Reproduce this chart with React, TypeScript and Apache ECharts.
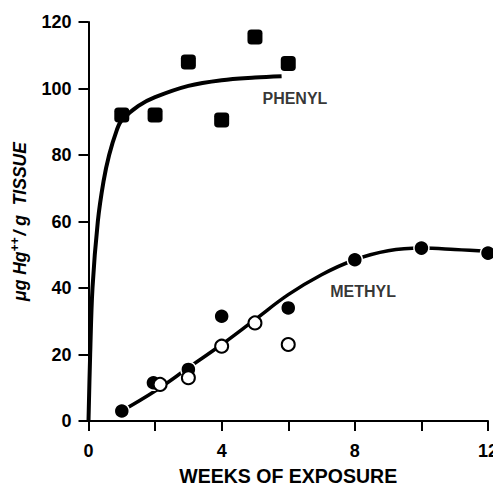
import React, { useEffect, useRef } from "react";
import * as echarts from "echarts";

// phenyl mercury: measured points (weeks, µg Hg/g tissue)
const phenylWeeks = [1, 2, 3, 4, 5, 6];
const phenylValues = [92, 92, 108, 90.5, 115.5, 107.5];
// fitted curve drawn through phenyl data
const phenylCurveWeeks = [0, 0.05, 0.12, 0.28, 0.45, 0.62, 0.85, 1, 1.5, 2, 3, 4, 5, 5.8];
const phenylCurveValues = [0, 20, 40, 60, 72, 80, 87.5, 90.5, 94.8, 97.4, 100.8, 102.5, 103.3, 103.7];

// methyl mercury: filled and open circles
const methylFilledWeeks = [1, 1.95, 3, 4, 6, 8, 10, 12];
const methylFilledValues = [3, 11.5, 15.5, 31.5, 34, 48.5, 52, 50.5];
const methylOpenWeeks = [2.15, 3, 4, 5, 6];
const methylOpenValues = [11, 13, 22.5, 29.5, 23];
const methylCurveWeeks = [1, 2, 3, 4, 5, 6, 7, 8, 9, 10, 11, 12];
const methylCurveValues = [3, 9, 16, 23, 30.5, 38, 44, 48.5, 51.2, 52, 51.6, 51];

const seriesLabels = ["PHENYL", "METHYL"];
const seriesLabelPos = [
  [6.2, 97],
  [8.25, 39],
];

const xTicks = [0, 4, 8, 12];

export default function App() {
  const chartRef = useRef<HTMLDivElement | null>(null);

  useEffect(() => {
    const chart = echarts.init(chartRef.current as HTMLDivElement, null, { renderer: "svg" });
    const font = "Liberation Sans, Arial, sans-serif";
    const pair = (xs: number[], ys: number[]) => xs.map((x, i) => [x, ys[i]]);

    const option = {
      animation: false,
      backgroundColor: "#fff",
      textStyle: { fontFamily: font, color: "#000" },
      grid: { left: 88.5, right: 5, top: 22, bottom: 68, outerBoundsMode: "none" },
      xAxis: {
        type: "value",
        min: 0,
        max: 12,
        interval: 2,
        name: "WEEKS OF EXPOSURE",
        nameLocation: "middle",
        nameGap: 45,
        nameTextStyle: { fontSize: 19.5, fontWeight: "bold", color: "#000", fontFamily: font },
        axisLine: { lineStyle: { color: "#000", width: 2 } },
        axisTick: { length: 10, lineStyle: { color: "#000", width: 2 } },
        axisLabel: {
          margin: 21,
          fontSize: 18,
          fontWeight: "bold",
          color: "#000",
          formatter: (v: number) => (xTicks.includes(v) ? String(v) : ""),
        },
        splitLine: { show: false },
      },
      yAxis: {
        type: "value",
        min: 0,
        max: 120,
        interval: 20,
        name: "{a|μg Hg}{b|++}{a|/ g  TISSUE}",
        nameLocation: "middle",
        nameGap: 58,
        nameTextStyle: {
          color: "#000",
          fontWeight: "bold",
          fontStyle: "italic",
          fontFamily: font,
          fontSize: 17.5,
          rich: {
            a: { fontSize: 17.5, fontWeight: "bold", fontStyle: "italic", fontFamily: font, color: "#000" },
            b: {
              fontSize: 12,
              fontWeight: "bold",
              fontFamily: font,
              color: "#000",
              padding: [0, 2, 10, 0],
            },
          },
        },
        axisLine: { lineStyle: { color: "#000", width: 2 } },
        axisTick: { length: 10, lineStyle: { color: "#000", width: 2 } },
        axisLabel: { margin: 17, fontSize: 18, fontWeight: "bold", color: "#000" },
        splitLine: { show: false },
      },
      series: [
        {
          type: "line",
          data: pair(phenylCurveWeeks, phenylCurveValues),
          smooth: 0.35,
          showSymbol: false,
          lineStyle: { color: "#000", width: 4 },
          z: 2,
        },
        {
          type: "line",
          data: pair(methylCurveWeeks, methylCurveValues),
          smooth: 0.4,
          showSymbol: false,
          lineStyle: { color: "#000", width: 3.5 },
          z: 2,
        },
        {
          type: "scatter",
          data: pair(phenylWeeks, phenylValues),
          symbol: "roundRect",
          symbolSize: 15,
          itemStyle: { color: "#000", opacity: 1 },
          z: 3,
        },
        {
          type: "scatter",
          data: pair(methylFilledWeeks, methylFilledValues),
          symbol: "circle",
          symbolSize: 15,
          itemStyle: { color: "#000", borderColor: "#fff", borderWidth: 1.5, opacity: 1 },
          z: 3,
        },
        {
          type: "scatter",
          data: pair(methylOpenWeeks, methylOpenValues),
          symbol: "circle",
          symbolSize: 13,
          itemStyle: { color: "#fff", borderColor: "#000", borderWidth: 2, opacity: 1 },
          z: 4,
        },
        {
          type: "scatter",
          data: seriesLabels.map((n, i) => ({ name: n, value: seriesLabelPos[i] })),
          symbolSize: 0,
          label: {
            show: true,
            position: "inside",
            formatter: (p: any) => p.name,
            fontSize: 16,
            fontWeight: "bold",
            color: "#000",
            fontFamily: font,
          },
          z: 5,
        },
      ],
    };

    chart.setOption(option as any);

    return () => {
      chart.dispose();
    };
  }, []);

  return (
    <div
      ref={chartRef}
      style={{ position: "fixed", left: 0, top: 0, width: "493px", height: "489px" }}
    />
  );
}
